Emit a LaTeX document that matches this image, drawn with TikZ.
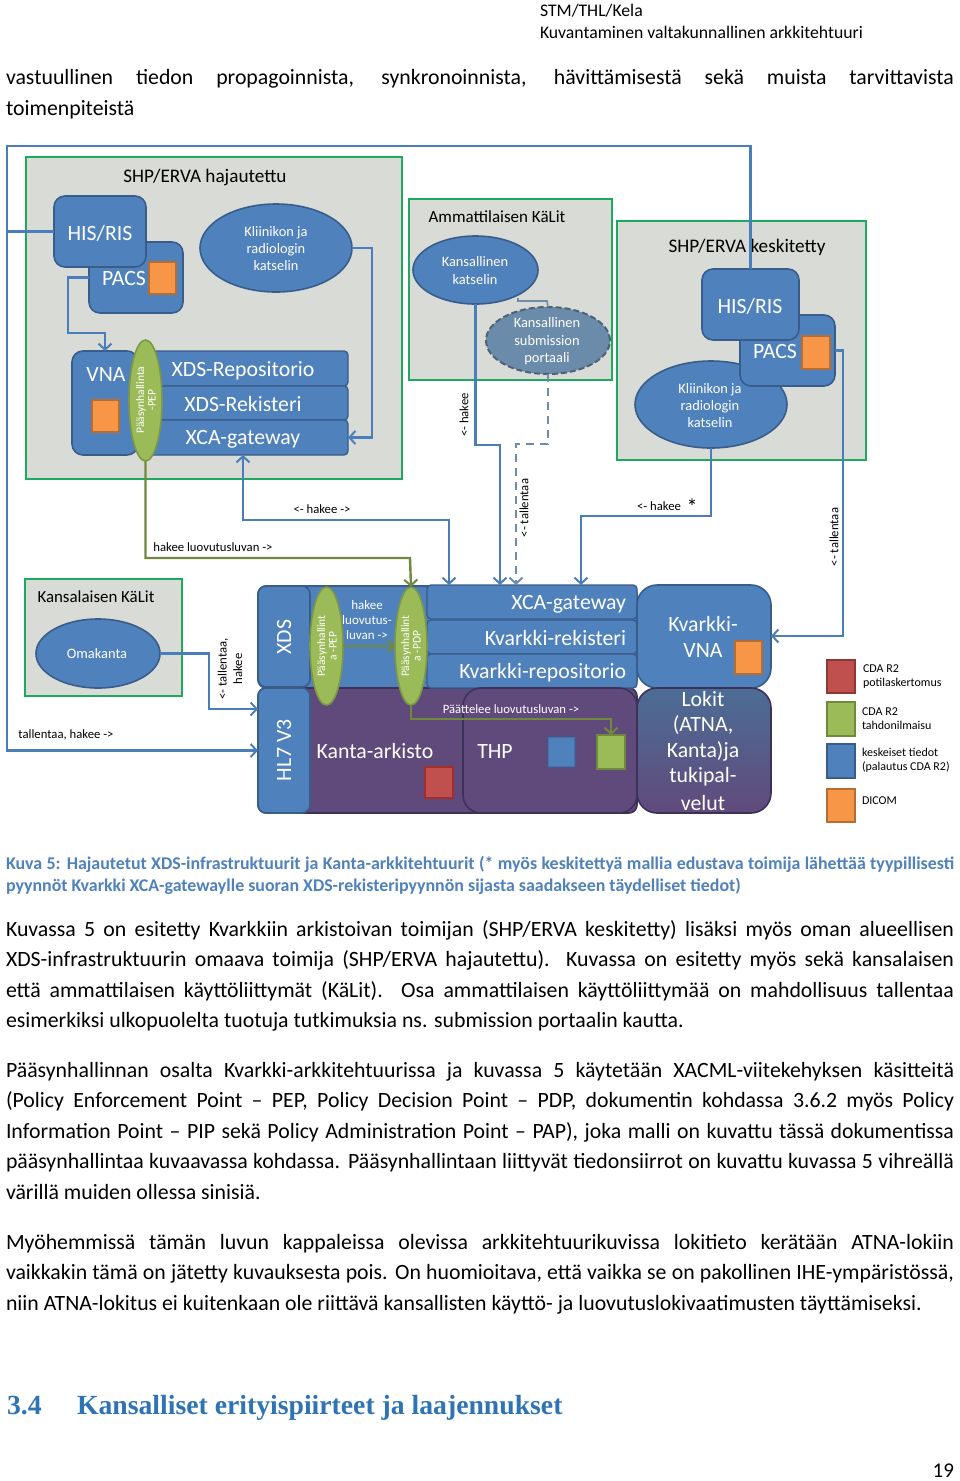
\documentclass[tikz,border=0pt]{standalone}
\usepackage{fontspec}
\setmainfont{Carlito}
\newfontfamily\headfont{Liberation Serif}
\usetikzlibrary{arrows.meta,shapes.geometric,shapes.misc,shadings}
\definecolor{bfill}{HTML}{4F81BD}
\definecolor{bedge}{HTML}{385D8A}
\definecolor{conn}{HTML}{4A7EBB}
\definecolor{gfill}{HTML}{9BBB59}
\definecolor{gedge}{HTML}{71893F}
\definecolor{boxg}{HTML}{D9DBD7}
\definecolor{boxe}{HTML}{1FA85F}
\definecolor{purp}{HTML}{604A7B}
\definecolor{purpe}{HTML}{3E3159}
\definecolor{capt}{HTML}{4F81BD}
\definecolor{headc}{HTML}{2E74B5}
\definecolor{dashc}{HTML}{6F8CA8}
\definecolor{subg}{HTML}{6B8BAB}
\definecolor{orfill}{HTML}{F79646}
\definecolor{oredge}{HTML}{B66D31}
\definecolor{redfill}{HTML}{C0504D}
\definecolor{rededge}{HTML}{8C3836}
\newcommand\fs[1]{\fontsize{#1}{#1}\selectfont}
\tikzset{
 x=1pt,y=-1pt,
 every node/.style={inner sep=0pt,outer sep=0pt},
 area/.style={draw=boxe,line width=2pt,fill=boxg},
 rbox/.style={draw=bedge,line width=1.6pt,fill=bfill,rounded corners=8pt,text=white},
 rowbox/.style={draw=bedge,line width=1.4pt,fill=bfill,rounded corners=4pt,text=white},
 pbox/.style={draw=purpe,line width=1.6pt,fill=purp,rounded corners=8pt,text=white},
 ell/.style={ellipse,draw=bedge,line width=1.6pt,fill=bfill,text=white,align=center},
 gell/.style={ellipse,draw=gedge!70!gfill,line width=1.6pt,fill=gfill},
 gtxt/.style={text=white,rotate=90,align=center,font=\fs{11.5}},
 wt/.style={text=white,font=\fs{21.8}},
 etxt/.style={text=white,align=center,font=\fs{14.4}},
 lab/.style={text=black,font=\fs{12.7}},
 ttl/.style={text=black,font=\fs{19.2}},
 leg/.style={text=black,font=\fs{12},anchor=west,align=left},
 filebox/.style={chamfered rectangle,chamfered rectangle corners=north east,chamfered rectangle xsep=5pt,chamfered rectangle ysep=5pt,line width=1.6pt},
 cn/.style={draw=conn,line width=2.4pt},
 cg/.style={draw=gedge,line width=2.4pt},
 onetip/.style={-{Straight Barb[length=6pt,width=13pt,line width=2pt]}},
 bothtips/.style={{Straight Barb[length=6pt,width=13pt,line width=2pt]}-{Straight Barb[length=6pt,width=13pt,line width=2pt]}},
 bodytxt/.style={text=black,font=\fs{21.8},anchor=base west},
 captxt/.style={text=capt,font=\bfseries\fs{17.9},anchor=base west},
}
\newcommand\bx[6][]{%
 \pgfmathsetmacro\bw{#4-#2}\pgfmathsetmacro\bh{#5-#3}%
 \pgfmathsetmacro\bcx{(#2+#4)/2}\pgfmathsetmacro\bcy{(#3+#5)/2}%
 \node[minimum width=\bw pt,minimum height=\bh pt,#1] (#6) at (\bcx,\bcy) {};}
\newcommand\fl[3]{\node[bodytxt] (#1) at (6,#2) {\makebox[948pt][s]{#3}};}
\begin{document}
\begin{tikzpicture}
\useasboundingbox (0,0) rectangle (960,1481);
\fill[white] (0,0) rectangle (960,1481);
% page text
\node[text=black,font=\fs{17.7},anchor=base west] (h1) at (540,16) {STM/THL/Kela};
\node[text=black,font=\fs{17.7},anchor=base west] (h2) at (540,38) {Kuvantaminen valtakunnallinen arkkitehtuuri};
\fl{t1}{84}{vastuullinen tiedon propagoinnista, synkronoinnista, hävittämisestä sekä muista tarvittavista}
\node[bodytxt] (t2) at (6,115) {toimenpiteistä};
\node[captxt] (c1) at (6,869) {\makebox[948pt][s]{Kuva 5: Hajautetut XDS-infrastruktuurit ja Kanta-arkkitehtuurit (* myös keskitettyä mallia edustava toimija lähettää tyypillisesti}};
\node[captxt] (c2) at (6,891) {pyynnöt Kvarkki XCA-gatewaylle suoran XDS-rekisteripyynnön sijasta saadakseen täydelliset tiedot)};
\fl{p1}{936}{Kuvassa 5 on esitetty Kvarkkiin arkistoivan toimijan (SHP/ERVA keskitetty) lisäksi myös oman alueellisen}
\fl{p2}{966}{XDS-infrastruktuurin omaava toimija (SHP/ERVA hajautettu). Kuvassa on esitetty myös sekä kansalaisen}
\fl{p3}{997}{että ammattilaisen käyttöliittymät (KäLit). Osa ammattilaisen käyttöliittymää on mahdollisuus tallentaa}
\node[bodytxt] (p4) at (6,1027) {esimerkiksi ulkopuolelta tuotuja tutkimuksia ns. submission portaalin kautta.};
\fl{q1}{1077}{Pääsynhallinnan osalta Kvarkki-arkkitehtuurissa ja kuvassa 5 käytetään XACML-viitekehyksen käsitteitä}
\fl{q2}{1107}{(Policy Enforcement Point – PEP, Policy Decision Point – PDP, dokumentin kohdassa 3.6.2 myös Policy}
\fl{q3}{1138}{Information Point – PIP sekä Policy Administration Point – PAP), joka malli on kuvattu tässä dokumentissa}
\fl{q4}{1168}{pääsynhallintaa kuvaavassa kohdassa. Pääsynhallintaan liittyvät tiedonsiirrot on kuvattu kuvassa 5 vihreällä}
\node[bodytxt] (q5) at (6,1199) {värillä muiden ollessa sinisiä.};
\fl{r1}{1249}{Myöhemmissä tämän luvun kappaleissa olevissa arkkitehtuurikuvissa lokitieto kerätään ATNA-lokiin}
\fl{r2}{1279}{vaikkakin tämä on jätetty kuvauksesta pois. On huomioitava, että vaikka se on pakollinen IHE-ympäristössä,}
\node[bodytxt] (r3) at (6,1310) {niin ATNA-lokitus ei kuitenkaan ole riittävä kansallisten käyttö- ja luovutuslokivaatimusten täyttämiseksi.};
\node[text=headc,font=\headfont\bfseries\fs{27.7},anchor=base west] (s1) at (7,1414) {3.4};
\node[text=headc,font=\headfont\bfseries\fs{27.7},anchor=base west] (s2) at (77,1414) {Kansalliset erityispiirteet ja laajennukset};
\node[text=black,font=\fs{21},anchor=base east] (pg) at (954,1477.5) {19};
% areas
\bx[area]{26}{157}{402}{479}{a1}
\bx[area]{409}{199}{612}{380}{a2}
\bx[area]{617}{221}{866}{460}{a3}
\bx[area]{25}{579}{182}{696}{a4}
\node[ttl] (a1t) at (205,177) {SHP/ERVA hajautettu};
\node[ttl,font=\fs{17}] (a2t) at (497,216.5) {Ammattilaisen KäLit};
\node[ttl] (a3t) at (747,247) {SHP/ERVA keskitetty};
\node[ttl,font=\fs{16.9}] (a4t) at (96,596.5) {Kansalaisen KäLit};
% hajautettu
\bx[rbox,rounded corners=11pt]{89}{242}{183}{313}{pacs}
\bx[rbox,rounded corners=11pt]{54}{196}{146}{267}{his}
\node[wt] (hist) at (100,233) {HIS/RIS};
\node[wt] (pacst) at (124,278.5) {PACS};
\bx[filebox,draw=oredge,fill=orfill]{149}{262}{176}{294}{pacsf}
\bx[ell]{200}{204}{352}{292}{klin}
\node[etxt] (klint) at (276,248.5) {Kliinikon ja\\[3pt]radiologin\\[3pt]katselin};
\bx[rbox,rounded corners=11pt]{72}{351}{138}{455}{vna}
\node[wt] (vnat) at (106,374) {VNA};
\bx[filebox,draw=oredge,fill=orfill]{92}{400}{119}{432}{vnaf}
\bx[rowbox]{138}{351}{348}{386}{xr}
\bx[rowbox]{138}{386}{348}{420}{xk}
\bx[rowbox]{138}{420}{348}{455}{xca}
\node[wt] (xrt) at (243,371) {XDS-Repositorio};
\node[wt] (xkt) at (243,404) {XDS-Rekisteri};
\node[wt] (xcat) at (243,439) {XCA-gateway};
\bx[gell]{129}{340}{162}{461}{pep1}
\node[gtxt] (pep1t) at (146,400) {Pääsynhallinta\\-PEP};
% ammattilainen
\bx[ell]{413}{236}{538}{304}{kans}
\node[etxt] (kanst) at (475,270.5) {Kansallinen\\[3pt]katselin};
\bx[ell,draw=dashc!70!black,fill=subg,line width=2pt,dash pattern=on 6pt off 3pt]{486}{307}{610}{374}{subm}
\node[etxt] (submt) at (547,341.5) {Kansallinen\\[3pt]submission\\[3pt]portaali};
\coordinate (kansSE) at (518,298);
\draw[draw=dashc,line width=1.6pt] (kansSE) |- (547,301) -- (subm.north);
% keskitetty
\bx[ell]{635}{361}{787}{448}{klin2}
\bx[rbox,rounded corners=11pt]{740}{315}{835}{386}{pacs2}
\bx[rbox,rounded corners=11pt]{702}{269}{799}{340}{his2}
\node[wt] (his2t) at (750,306.5) {HIS/RIS};
\node[wt] (pacs2t) at (775,351.5) {PACS};
\bx[filebox,draw=oredge,fill=orfill]{802}{336}{830}{369}{pacs2f}
\node[etxt] (klin2t) at (710,405.5) {Kliinikon ja\\[3pt]radiologin\\[3pt]katselin};
% kansalainen
\bx[ell]{36}{619}{160}{688}{oma}
\node[etxt] (omat) at (97,653.5) {Omakanta};
% lower block
\bx[rbox,rounded corners=8pt,draw=bedge]{258}{586}{637}{688}{kblock}
\bx[pbox]{258}{688}{637}{813}{arch}
\bx[rowbox]{427}{585}{637}{619}{kx}
\bx[rowbox]{427}{620}{637}{654}{kr}
\bx[rowbox]{427}{654}{637}{688}{krp}
\bx[rbox]{258}{586}{310}{687}{xds}
\bx[rbox]{258}{688}{310}{813}{hl7}
\bx[pbox,rounded corners=18pt]{463}{688}{637}{813}{thp}
\node[wt,rotate=90] (xdst) at (284,637) {XDS};
\node[wt,rotate=90] (hl7t) at (284,750) {HL7 V3};
\node[wt,anchor=east] (kxt) at (626,604) {XCA-gateway};
\node[wt,anchor=east] (krt) at (626,638) {Kvarkki-rekisteri};
\node[wt,anchor=east] (krpt) at (626,673) {Kvarkki-repositorio};
\node[wt] (kat) at (375,751) {Kanta-arkisto};
\node[wt] (thpt) at (495,751) {THP};
\bx[filebox,draw=rededge!80!red,fill=redfill]{425}{767}{453}{798}{redf}
\bx[filebox,draw=bedge,fill=bfill,draw opacity=.4]{548}{737}{575}{767}{bluef}
\bx[filebox,draw=gedge,fill=gfill]{597}{735}{625}{769}{greenf}
\bx[gell]{310}{587}{343}{705}{pep2}
\bx[gell]{395}{587}{427}{705}{pdp}
\node[gtxt] (pep2t) at (327,646) {Pääsynhallint\\a -PEP};
\node[gtxt] (pdpt) at (411,646) {Pääsynhallint\\a -PDP};
\node[text=white,align=center,font=\fs{13}] (hkl) at (367,620) {hakee\\[2pt]luovutus-\\[2pt]luvan ->};
\node[text=white,font=\fs{12.7}] (pll) at (511,709) {Päättelee luovutusluvan ->};
\bx[rbox,rounded corners=20pt]{637}{585}{771}{688}{kvna}
\node[text=white,align=center,font=\fs{21.8}] (kvnat) at (703,637) {Kvarkki-\\[4pt]VNA};
\bx[filebox,draw=oredge,fill=orfill]{735}{641}{762}{674}{kvnaf}
\bx[draw=purpe,line width=1.6pt,rounded corners=20pt,top color=bedge!90!white,bottom color=purp]{637}{688}{771}{813}{lok}
\node[wt] (l1) at (703,699) {Lokit};
\node[wt] (l2) at (703,725) {(ATNA,};
\node[wt] (l3) at (703,751) {Kanta)ja};
\node[wt] (l4) at (703,777) {tukipal-};
\node[wt] (l5) at (703,803) {velut};
% legend
\bx[filebox,draw=rededge,fill=redfill]{827}{660}{855}{693}{lr}
\bx[filebox,draw=gedge,fill=gfill]{827}{702}{855}{736}{lg}
\bx[filebox,draw=bedge,fill=bfill]{827}{744}{855}{778}{lb}
\bx[filebox,draw=oredge,fill=orfill]{827}{789}{855}{822}{lo}
\node[leg] (lrt) at (863,677) {CDA R2\\[2pt]potilaskertomus};
\node[leg] (lgt) at (862,719) {CDA R2\\[2pt]tahdonilmaisu};
\node[leg] (lbt) at (862,760) {keskeiset tiedot\\[2pt](palautus CDA R2)};
\node[leg] (lot) at (862,801) {DICOM};
% connectors
\coordinate (outerNW) at (7,146);
\coordinate (outerSW) at (7,750.5);
\draw[cn] (his.west) -- (his.west -| outerNW);
\draw[cn,onetip] (his2.north) |- (outerNW) -- (outerSW) -- (hl7.west);
\draw[cn,onetip] (pacs.west) -| (68,333) -| (vna.north);
\draw[cn,onetip] (klin.east) -| (372,437.5) -- (xca.east);
\coordinate (t1) at (449,585);
\coordinate (t2) at (500,585);
\coordinate (t3) at (516,585);
\coordinate (t4) at (581,585);
\draw[cn,bothtips] (xca.south) |- (449,520) -- (t1);
\draw[cg,onetip] (pep1.south) |- (410,558) -- (pdp.north);
\draw[cn,onetip] (kans.south) |- (500,445) -- (t2);
\draw[draw=dashc,line width=2.4pt,dash pattern=on 8pt off 6pt,onetip] (subm.south) |- (516,444) -- (t3);
\draw[cn,onetip] (klin2.south) |- (581,516) -- (t4);
\draw[cn,onetip] (pacs2.east) -| (843,636) -- (771,636);
\draw[cn,onetip] (oma.east) -| (209,709) -- (258,709);
\draw[cg,onetip] (pep2.east) -- (pdp.west);
\draw[cg,onetip] (pdp.south) |- (611,719) -- (611,735);
% connector labels
\node[lab] (ll1) at (322,509.5) {<- hakee ->};
\node[lab] (ll2) at (213,547.5) {hakee luovutusluvan ->};
\node[lab,rotate=90] (ll3) at (464,415) {<- hakee};
\node[lab,rotate=90] (ll4) at (524,508) {<- tallentaa};
\node[lab] (ll5) at (659,506) {<- hakee};
\node[text=black,font=\fs{22}] (ll6) at (692,507) {*};
\node[lab,rotate=90] (ll7) at (834,537) {<- tallentaa};
\node[lab,rotate=90,align=center] (ll8) at (230,669) {<- tallentaa,\\[3pt]hakee};
\node[lab] (ll9) at (66,735) {tallentaa, hakee ->};
\end{tikzpicture}
\end{document}
